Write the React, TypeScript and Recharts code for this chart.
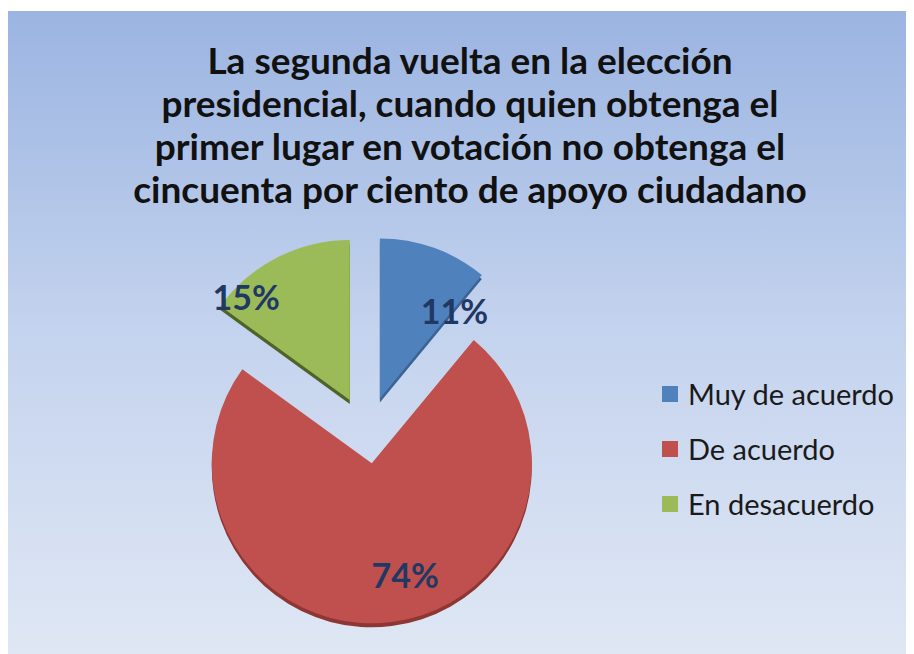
import { PieChart, Pie, Cell, Legend } from "recharts";

const categories = ["Muy de acuerdo", "De acuerdo", "En desacuerdo"];
const shares = [11, 74, 15];
const colors = ["#4f81bd", "#c0504d", "#9bbb59"];
const edgeColors = ["#3b6494", "#8e3633", "#4f6228"];

// label placement nudges (Excel "best fit"), clockwise degrees + radius fraction
const labelTurn = [22, -9, -19];
const labelRadius = [0.7, 0.75, 0.9];

const data = categories.map((name, i) => ({ name, value: shares[i] }));

const W = 906;
const H = 643;
const CX = 354;
const CY = 414;
const R = 160;
const EXPLODE_X = 38;
const EXPLODE_Y = 33.6;
const DEPTH = 4;

const total = shares.reduce((a, b) => a + b, 0);
const midAngles = shares.map((v, i) => {
  const before = shares.slice(0, i).reduce((a, b) => a + b, 0);
  return ((before + v / 2) / total) * 360;
});

const rad = (deg: number) => (deg * Math.PI) / 180;

function renderLabel(own: number) {
  return (p: any) => {
    if (p.index !== own) return null;
    const a = rad(midAngles[own] + labelTurn[own]);
    const r = R * labelRadius[own];
    const x = p.cx + r * Math.sin(a);
    const y = p.cy - r * Math.cos(a) - 4;
    return (
      <text
        x={x}
        y={y}
        textAnchor="middle"
        dominantBaseline="central"
        fill="#1f3864"
        fontSize={34}
        fontWeight="bold"
        fontFamily="Lato, sans-serif"
      >
        {`${shares[own]}%`}
      </text>
    );
  };
}

function LegendBox() {
  return (
    <div style={{ fontFamily: "Lato, sans-serif" }}>
      {categories.map((c, i) => (
        <div key={c} style={{ display: "flex", alignItems: "center", height: 55 }}>
          <span style={{ width: 16, height: 16, background: colors[i], marginRight: 10 }} />
          <span style={{ fontSize: 29, color: "#1a1a1a" }}>{c}</span>
        </div>
      ))}
    </div>
  );
}

export default function App() {
  return (
    <div
      style={{
        position: "relative",
        marginTop: 3,
        width: W,
        height: H,
        background: "linear-gradient(#9bb4e1 0%, #c4d3ee 50%, #dfe7f4 100%)",
      }}
    >
      <div
        style={{
          position: "absolute",
          left: 18,
          top: 27,
          width: 888,
          textAlign: "center",
          fontFamily: "Lato, sans-serif",
          fontWeight: "bold",
          fontSize: 37,
          lineHeight: "43px",
          color: "#111",
        }}
      >
        La segunda vuelta en la elección
        <br />
        presidencial, cuando quien obtenga el
        <br />
        primer lugar en votación no obtenga el
        <br />
        cincuenta por ciento de apoyo ciudadano
      </div>
      <PieChart width={W} height={H} style={{ position: "absolute", left: 0, top: 0 }}>
        {categories.map((_, i) => {
          const a = rad(midAngles[i]);
          const px = CX + EXPLODE_X * Math.sin(a);
          const py = CY - EXPLODE_Y * Math.cos(a);
          return (
            <Pie
              key={`depth-${i}`}
              data={data}
              dataKey="value"
              nameKey="name"
              cx={px}
              cy={py + DEPTH}
              outerRadius={R}
              startAngle={90}
              endAngle={-270}
              stroke="none"
              isAnimationActive={false}
              legendType="none"
            >
              {data.map((d, j) => (
                <Cell key={d.name} fill={j === i ? edgeColors[j] : "none"} />
              ))}
            </Pie>
          );
        })}
        {categories.map((_, i) => {
          const a = rad(midAngles[i]);
          const px = CX + EXPLODE_X * Math.sin(a);
          const py = CY - EXPLODE_Y * Math.cos(a);
          return (
            <Pie
              key={`top-${i}`}
              data={data}
              dataKey="value"
              nameKey="name"
              cx={px}
              cy={py}
              outerRadius={R}
              startAngle={90}
              endAngle={-270}
              stroke="none"
              isAnimationActive={false}
              label={renderLabel(i)}
              labelLine={false}
            >
              {data.map((d, j) => (
                <Cell key={d.name} fill={j === i ? colors[j] : "none"} />
              ))}
            </Pie>
          );
        })}
        <Legend
          layout="vertical"
          align="right"
          verticalAlign="middle"
          content={() => <LegendBox />}
          wrapperStyle={{ left: 654, top: 355, width: 250, right: "auto" }}
        />
      </PieChart>
    </div>
  );
}
